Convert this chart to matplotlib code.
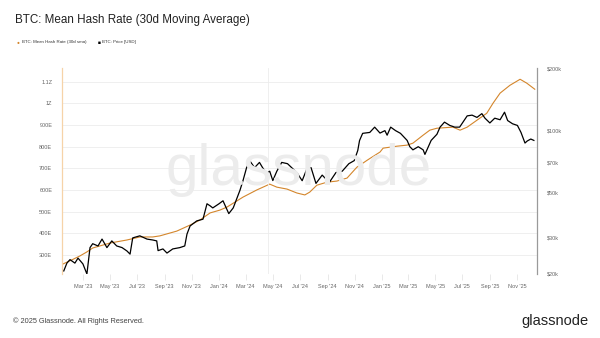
import numpy as np
import pandas as pd
import matplotlib
matplotlib.use("Agg")
import matplotlib.pyplot as plt
import matplotlib.dates as mdates
from matplotlib.ticker import FixedLocator, NullLocator

plt.rcParams['font.family'] = ['Liberation Sans', 'DejaVu Sans']

# ---------- data ----------
hash_dates = pd.to_datetime([
    "2023-01-15", "2023-02-07", "2023-02-22", "2023-03-10", "2023-03-23", "2023-05-01",
    "2023-06-08", "2023-07-07", "2023-08-05", "2023-08-21", "2023-09-28", "2023-10-28",
    "2023-11-19", "2023-12-12", "2024-01-03", "2024-01-19", "2024-02-24", "2024-03-26",
    "2024-04-24", "2024-05-10", "2024-06-02", "2024-06-24", "2024-07-12", "2024-07-23",
    "2024-08-08", "2024-08-31", "2024-09-22", "2024-10-15", "2024-11-06", "2024-11-29",
    "2024-12-05", "2024-12-28", "2025-01-04", "2025-02-04", "2025-02-27", "2025-03-12",
    "2025-04-04", "2025-04-19", "2025-05-05", "2025-06-10", "2025-06-26", "2025-07-12",
    "2025-08-03", "2025-08-25", "2025-09-08", "2025-09-24", "2025-10-16", "2025-11-08",
    "2025-11-23", "2025-12-11",
])
hash_rate = [  # EH/s
    258, 280, 295, 314, 332, 355,
    369, 383, 383, 388, 410, 438,
    461, 494, 507, 521, 567, 600,
    627, 613, 604, 586, 577, 590,
    622, 636, 641, 655, 705, 737,
    745, 775, 793, 802, 807, 816,
    853, 876, 885, 890, 876, 890,
    922, 954, 1000, 1047, 1083, 1111,
    1093, 1065,
]

price_dates = pd.to_datetime([
    "2023-01-17", "2023-01-24", "2023-01-31", "2023-02-11", "2023-02-18", "2023-03-01",
    "2023-03-10", "2023-03-17", "2023-03-23", "2023-04-04", "2023-04-13", "2023-04-24",
    "2023-05-05", "2023-05-16", "2023-05-28", "2023-06-08", "2023-06-15", "2023-06-21",
    "2023-07-07", "2023-07-23", "2023-08-05", "2023-08-14", "2023-08-17", "2023-08-28",
    "2023-09-06", "2023-09-19", "2023-10-05", "2023-10-16", "2023-10-21", "2023-10-28",
    "2023-11-12", "2023-11-26", "2023-12-05", "2023-12-12", "2023-12-18", "2024-01-01",
    "2024-01-10", "2024-01-23", "2024-02-02", "2024-02-17", "2024-02-24", "2024-03-03",
    "2024-03-10", "2024-03-21", "2024-04-01", "2024-04-08", "2024-04-17", "2024-04-24",
    "2024-05-01", "2024-05-10", "2024-05-21", "2024-06-03", "2024-06-14", "2024-06-25",
    "2024-07-06", "2024-07-17", "2024-07-26", "2024-08-06", "2024-08-20", "2024-09-05",
    "2024-09-20", "2024-10-04", "2024-10-19", "2024-10-31", "2024-11-08", "2024-11-12",
    "2024-11-19", "2024-12-05", "2024-12-16", "2024-12-28", "2025-01-08", "2025-01-13",
    "2025-01-21", "2025-02-01", "2025-02-12", "2025-02-27", "2025-03-05", "2025-03-12",
    "2025-03-24", "2025-04-04", "2025-04-08", "2025-04-22", "2025-05-05", "2025-05-12",
    "2025-05-22", "2025-06-03", "2025-06-14", "2025-06-25", "2025-07-12", "2025-07-23",
    "2025-08-03", "2025-08-14", "2025-08-21", "2025-09-01", "2025-09-12", "2025-09-24",
    "2025-10-04", "2025-10-11", "2025-10-22", "2025-11-02", "2025-11-10", "2025-11-19",
    "2025-11-24", "2025-12-02", "2025-12-09",
])
price = [  # USD
    20700, 22600, 23500, 22600, 23900, 22400,
    20000, 26900, 28100, 27400, 29600, 26900,
    29000, 27400, 26900, 25900, 25000, 30000,
    30700, 29600, 29300, 29000, 26000, 26500,
    25300, 26500, 26900, 27400, 31300, 34300,
    36300, 37000, 44000, 43000, 42000, 44000,
    45500, 39400, 42000, 51100, 57100, 66000,
    71400, 66000, 70000, 66000, 61900, 63400,
    57100, 63400, 70000, 69000, 65500, 62000,
    57000, 65500, 66000, 55300, 60700, 55900,
    62500, 63400, 69000, 71400, 80000, 89500,
    97000, 98000, 104000, 97300, 100000, 95000,
    104000, 100000, 97000, 89600, 83500, 80600,
    83500, 80600, 76600, 89600, 96000, 104000,
    110000, 106000, 104000, 104000, 118000, 119000,
    116000, 121000, 115000, 109000, 115000, 113000,
    123000, 112000, 108000, 106000, 98000, 87000,
    89000, 91000, 89600,
]

hash_ticks = [300, 400, 500, 600, 700, 800, 900, 1000, 1100]
hash_labels = ["300E", "400E", "500E", "600E", "700E", "800E", "900E", "1Z", "1.1Z"]
price_ticks = [20000, 30000, 50000, 70000, 100000, 200000]
price_labels = ["$20k", "$30k", "$50k", "$70k", "$100k", "$200k"]
halving = pd.Timestamp("2024-04-20")

orange = "#d4862c"
tick_col = "#666666"

# ---------- plot ----------
fig = plt.figure(figsize=(6, 3.38), dpi=100)
fig.patch.set_facecolor("white")
ax = fig.add_axes([62 / 600, 1 - 274 / 338, 475 / 600, 206 / 338])
ax2 = ax.twinx()

# watermark
fig.text(0.497, 1 - 185 / 338, "glassnode", fontsize=42, color="#ececec",
         ha="center", va="baseline", zorder=0)
ax.set_facecolor("none")

ax.plot(hash_dates, hash_rate, color=orange, lw=0.8)
ax2.plot(price_dates, price, color="black", lw=0.9)

ax.set_ylim(212, 1163)
ax2.set_yscale("log")
ax2.set_ylim(20000, 202000)
ax.set_xlim(pd.Timestamp("2023-01-13"), pd.Timestamp("2025-12-16"))

ax.yaxis.set_major_locator(FixedLocator(hash_ticks))
ax.set_yticklabels(hash_labels)
ax2.yaxis.set_major_locator(FixedLocator(price_ticks))
ax2.yaxis.set_minor_locator(NullLocator())
ax2.set_yticklabels(price_labels)

ax.xaxis.set_major_locator(mdates.MonthLocator(bymonth=[1, 3, 5, 7, 9, 11]))
ax.xaxis.set_major_formatter(mdates.DateFormatter("%b '%y"))

ax.grid(axis="y", color="#ececec", lw=0.6)
ax.axvline(halving, color="#ececec", lw=0.6)

ax.tick_params(axis="y", length=0, labelsize=4, labelcolor=tick_col, pad=7)
ax2.tick_params(axis="y", length=0, labelsize=4, labelcolor=tick_col, pad=7)
ax.tick_params(axis="x", length=4, width=0.5, color="#e0e0e0", labelsize=4,
               labelcolor=tick_col, pad=3)

for a in (ax, ax2):
    for s in a.spines.values():
        s.set_visible(False)
ax.spines["left"].set_visible(True)
ax.spines["left"].set_color("#f6d3a8")
ax.spines["left"].set_linewidth(0.9)
ax2.spines["right"].set_visible(True)
ax2.spines["right"].set_color("#9a9a9a")
ax2.spines["right"].set_linewidth(0.9)

# title, legend, footer
fig.text(15 / 600, 1 - 20 / 338, "BTC: Mean Hash Rate (30d Moving Average)",
         fontsize=8.4, color="#222222", va="center")
fig.text(18 / 600, 1 - 42 / 338, "\u25cf", fontsize=3.5, color=orange, ha="center", va="center")
fig.text(22 / 600, 1 - 42 / 338, "BTC: Mean Hash Rate (30d sma)", fontsize=3.2,
         color="#333333", va="center")
fig.text(99 / 600, 1 - 42 / 338, "\u25a0", fontsize=3.5, color="black", ha="center", va="center")
fig.text(102 / 600, 1 - 42 / 338, "BTC: Price [USD]", fontsize=3.2,
         color="#333333", va="center")

fig.text(13 / 600, 1 - 321 / 338, "\u00a9 2025 Glassnode. All Rights Reserved.",
         fontsize=5.3, color="#444444", va="center")
fig.text(588 / 600, 1 - 321 / 338, "glassnode", fontsize=10.5, color="#222222",
         ha="right", va="center")

fig.savefig("out.png", dpi=100)
